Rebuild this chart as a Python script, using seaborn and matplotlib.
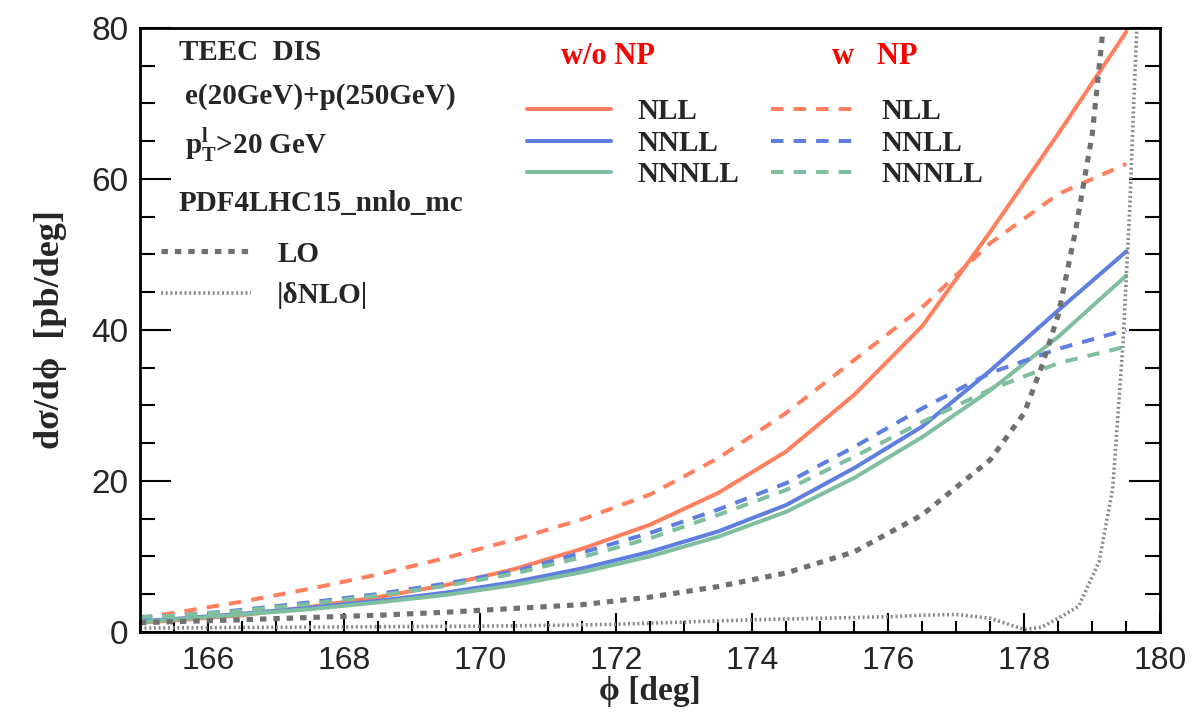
import numpy as np
import pandas as pd
import matplotlib
matplotlib.use("Agg")
import matplotlib.pyplot as plt
import seaborn as sns

sns.set_theme(style="ticks")
plt.rcParams['font.family'] = ['Liberation Serif', 'DejaVu Serif']
plt.rcParams['mathtext.fontset'] = 'custom'
plt.rcParams['mathtext.rm'] = 'Liberation Serif'
plt.rcParams['mathtext.bf'] = 'Liberation Serif:bold'

# resummed curves, values (pb/deg)
phi = [165.0, 165.5, 166.5, 167.5, 168.5, 169.5, 170.5, 171.5, 172.5,
       173.5, 174.5, 175.5, 176.5, 177.5, 178.5, 179.5]
nll_wo = [1.2, 1.5, 2.2, 3.3, 4.6, 6.2, 8.3, 11.0, 14.2, 18.4, 23.9, 31.4, 40.5, 53.0, 66.0, 79.5]
nnll_wo = [1.4, 1.7, 2.4, 3.2, 4.1, 5.2, 6.6, 8.4, 10.6, 13.3, 16.8, 21.7, 27.2, 34.6, 42.6, 50.4]
nnnll_wo = [1.3, 1.6, 2.3, 3.0, 3.9, 4.9, 6.2, 7.9, 10.0, 12.6, 15.9, 20.4, 25.8, 32.0, 39.1, 47.2]
nll_w = [1.85, 2.5, 4.0, 5.7, 7.6, 9.8, 12.2, 14.9, 18.2, 23.0, 29.0, 36.0, 43.0, 51.5, 58.0, 62.0]
nnll_w = [1.9, 2.1, 2.9, 3.9, 5.0, 6.4, 8.0, 10.5, 13.1, 16.2, 19.7, 24.5, 29.6, 34.3, 37.5, 40.0]
nnnll_w = [2.0, 2.1, 2.8, 3.7, 4.8, 6.1, 7.7, 9.9, 12.4, 15.5, 18.8, 23.2, 27.8, 32.1, 35.6, 37.8]

# fixed order curves
phi_lo = [165.0, 165.5, 166.5, 167.5, 168.5, 169.5, 170.5, 171.5, 172.5, 173.5, 174.5,
          175.5, 176.5, 177.5, 178.0, 178.25, 178.5, 178.75, 179.0, 179.25, 179.5]
lo = [1.2, 1.35, 1.6, 1.9, 2.2, 2.6, 3.1, 3.6, 4.6, 6.0, 7.8,
      10.6, 15.5, 22.8, 29.0, 35.0, 42.0, 53.0, 66.0, 88.0, 120.0]
phi_dnlo = [165, 166, 167, 168, 169, 170, 171, 172, 173, 174, 175, 176, 176.5, 177,
            177.5, 178, 178.25, 178.5, 178.8, 179.1, 179.3, 179.45, 179.55, 179.6, 179.7]
dnlo = [0.5, 0.55, 0.6, 0.65, 0.7, 0.75, 0.85, 1.0, 1.3, 1.6, 1.8, 2.0, 2.2, 2.3,
        1.8, 0.3, 0.6, 1.8, 3.4, 9.3, 19.0, 38.0, 56.0, 68.0, 90.0]

orders = ["NLL", "NNLL", "NNNLL"]
colors = ["#ff7f5f", "#5f7fe0", "#7fbf9f"]
wo_np = [nll_wo, nnll_wo, nnnll_wo]
w_np = [nll_w, nnll_w, nnnll_w]

fig = plt.figure(figsize=(11.95, 7.18), dpi=100)
ax = fig.add_axes([0.117, 0.12, 0.854, 0.841])

lw = 2.9
solid_handles = []
dashed_handles = []
for name, col, vals in zip(orders, colors, wo_np):
    sns.lineplot(x=phi, y=vals, color=col, lw=lw, ax=ax, label=name)
    solid_handles.append(ax.lines[-1])
for name, col, vals in zip(orders, colors, w_np):
    sns.lineplot(x=phi, y=vals, color=col, lw=lw, ax=ax, label=name,
                 linestyle=(0, (3.1, 2.5)))
    dashed_handles.append(ax.lines[-1])

sns.lineplot(x=phi_lo, y=lo, color="#707070", lw=3.7, ax=ax, label="LO",
             linestyle=(0, (1.25, 1.35)))
lo_line = ax.lines[-1]
sns.lineplot(x=phi_dnlo, y=dnlo, color="#888888", lw=2.6, ax=ax, label="|δNLO|",
             linestyle=(0, (0.55, 0.75)))
dnlo_line = ax.lines[-1]

ax.set_xlim(165, 180)
ax.set_ylim(0, 80)
ax.set_xticks(np.arange(166, 181, 2))
ax.set_xticks(np.arange(165, 180.01, 0.5), minor=True)
ax.set_yticks(np.arange(0, 81, 20))
ax.set_yticks(np.arange(0, 81, 5), minor=True)
ax.tick_params(which="both", direction="in", left=True, right=True, bottom=True, top=False,
               width=1.5, color="black")
ax.tick_params(axis="y", which="major", length=22, labelsize=24, pad=8)
ax.tick_params(axis="y", which="minor", length=11)
ax.tick_params(axis="x", which="major", length=14, labelsize=23, pad=10)
ax.tick_params(axis="x", which="minor", length=8)
ax.tick_params(labelfontfamily="Liberation Sans")
for s in ax.spines.values():
    s.set_linewidth(2.0)
    s.set_color("black")

ax.set_xlabel("ϕ [deg]", fontsize=24, fontweight="bold", labelpad=0)
ax.set_ylabel("dσ/dϕ  [pb/deg]", fontsize=26, fontweight="bold", labelpad=18)

# legends
leg_font = {"family": ["Liberation Serif", "DejaVu Serif"], "weight": "bold", "size": 21}
leg1 = ax.legend(handles=solid_handles, labels=orders, loc="upper left",
                 bbox_to_anchor=(0.365, 0.908), frameon=False, prop=leg_font,
                 handlelength=2.9, handletextpad=0.9, labelspacing=0.16, borderpad=0)
ax.add_artist(leg1)
leg2 = ax.legend(handles=dashed_handles, labels=orders, loc="upper left",
                 bbox_to_anchor=(0.604, 0.908), frameon=False, prop=leg_font,
                 handlelength=2.9, handletextpad=0.9, labelspacing=0.16, borderpad=0)
ax.add_artist(leg2)
ax.legend(handles=[lo_line, dnlo_line], labels=["LO", "|δNLO|"], loc="upper left",
          bbox_to_anchor=(0.006, 0.672), frameon=False, prop=leg_font,
          handlelength=3.1, handletextpad=0.9, labelspacing=0.5, borderpad=0)

txt = dict(transform=ax.transAxes, fontsize=21, fontweight="bold", va="center", ha="left")
ax.text(0.038, 0.960, "TEEC  DIS", **txt)
ax.text(0.044, 0.886, "e(20GeV)+p(250GeV)", **txt)
ax.text(0.044, 0.806, r"$\mathbf{p}_{\mathbf{T}}^{\mathbf{l}}$>20 GeV", **txt)
ax.text(0.038, 0.710, "PDF4LHC15_nnlo_mc", **txt)
ax.text(0.459, 0.952, "w/o NP", color="red", transform=ax.transAxes, fontsize=22,
        fontweight="bold", va="center", ha="center")
ax.text(0.72, 0.952, "w   NP", color="red", transform=ax.transAxes, fontsize=22,
        fontweight="bold", va="center", ha="center")

fig.savefig("out.png", dpi=100)
